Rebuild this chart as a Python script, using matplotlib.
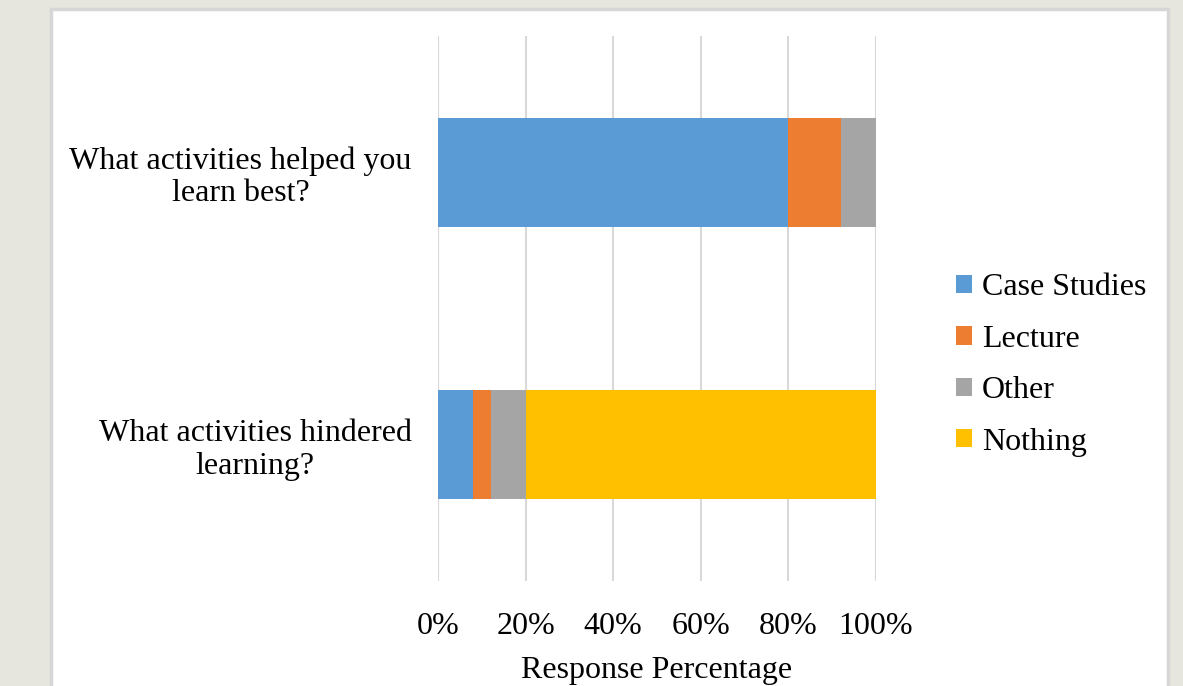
import numpy as np
import matplotlib.pyplot as plt
from matplotlib.patches import Rectangle

# Données du graphique
questions = ['What activities helped you\nlearn best?',
             'What activities hindered\nlearning?']
series = ['Case Studies', 'Lecture', 'Other', 'Nothing']
case_studies = [80, 8]
lecture = [12, 4]
other = [8, 8]
nothing = [0, 80]
x_ticks = [0, 20, 40, 60, 80, 100]
x_tick_labels = ['0%', '20%', '40%', '60%', '80%', '100%']

colors = ['#5B9BD5', '#ED7D31', '#A5A5A5', '#FFC000']

plt.rcParams['font.family'] = ['Liberation Serif', 'DejaVu Serif']
FS = 23

fig = plt.figure(figsize=(11.83, 6.86), dpi=100)
fig.patch.set_facecolor('#e6e6df')

# Panneau blanc avec bordure grise
panel = Rectangle((51 / 1183, -0.01), 1117 / 1183, 1 - 9 / 686 + 0.01,
                  transform=fig.transFigure, facecolor='white',
                  edgecolor='#d6d6d6', linewidth=2.5, zorder=-5)
fig.patches.append(panel)

ax = fig.add_axes([438 / 1183, 105 / 686, 438 / 1183, 545 / 686])
ax.set_facecolor('none')

y_pos = np.arange(len(questions))
left = np.zeros(len(questions))
for name, vals, col in zip(series, [case_studies, lecture, other, nothing], colors):
    ax.barh(y_pos, vals, left=left, height=0.4, color=col, label=name, zorder=3)
    left += np.array(vals)

ax.set_xlim(0, 100)
ax.set_ylim(1.5, -0.5)
ax.set_xticks(x_ticks)
ax.set_xticklabels(x_tick_labels, fontsize=FS)
ax.set_yticks(y_pos)
ax.set_yticklabels(questions, fontsize=FS, linespacing=1.15)
for t in ax.get_yticklabels():
    t.set_multialignment('center')

ax.grid(axis='x', color='#d9d9d9', linewidth=1.5, zorder=0)
ax.tick_params(axis='x', length=0, pad=22)
ax.tick_params(axis='y', length=0, pad=19)
for s in ax.spines.values():
    s.set_visible(False)

ax.set_xlabel('Response Percentage', fontsize=FS, labelpad=11)

fig.legend(loc='center left', bbox_to_anchor=(956 / 1183, 1 - 365 / 686),
           frameon=False, fontsize=FS, handlelength=0.5, handleheight=0.5,
           handletextpad=0.32, labelspacing=0.7, borderpad=0, borderaxespad=0)

fig.savefig('out.png', dpi=100, facecolor=fig.get_facecolor())
